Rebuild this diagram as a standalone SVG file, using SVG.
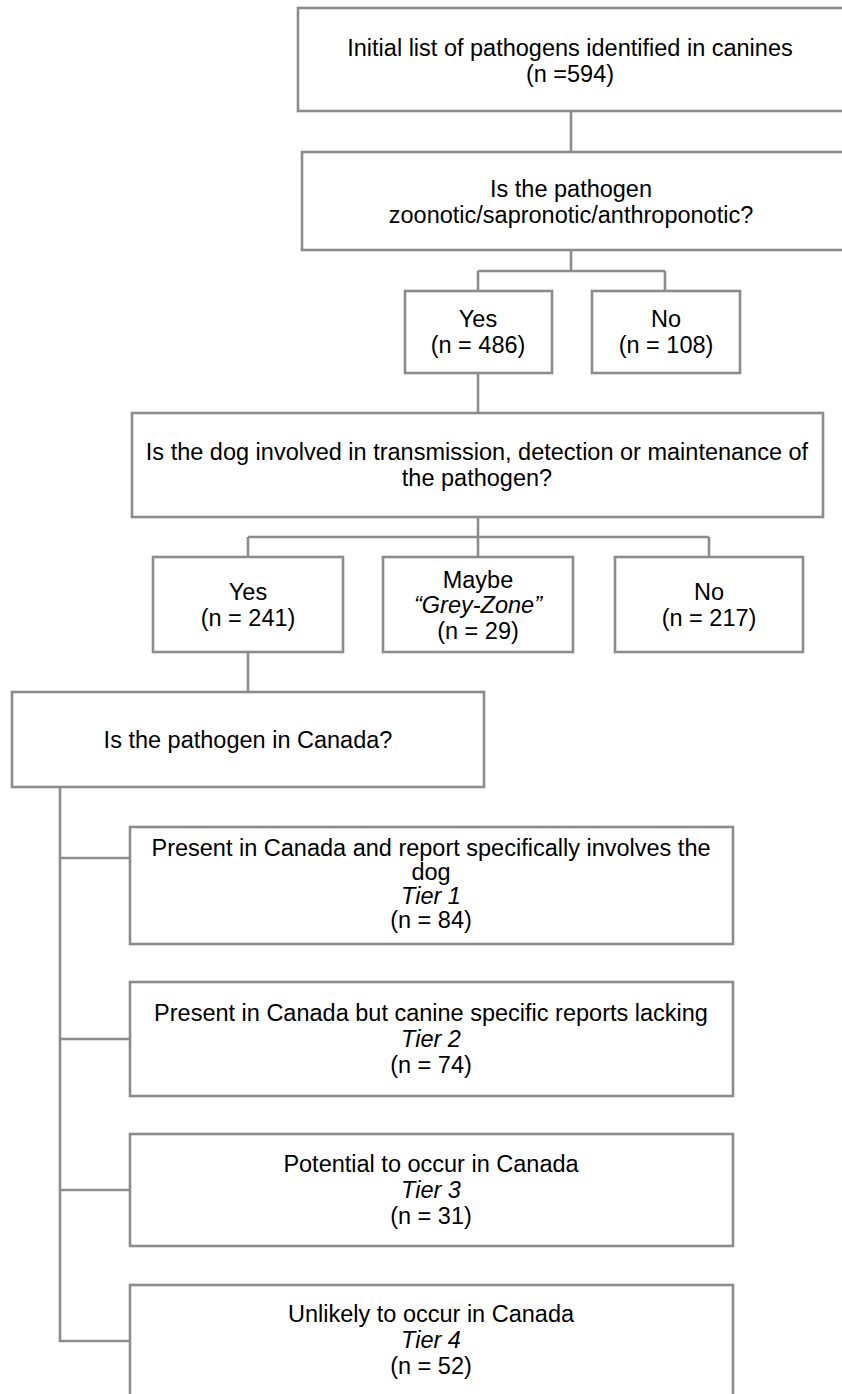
<svg xmlns="http://www.w3.org/2000/svg" width="842" height="1394" viewBox="0 0 842 1394">
<style>
.box{fill:#fff;stroke:#8c8c8c;stroke-width:2.6}
.ln{stroke:#8c8c8c;stroke-width:2.6;fill:none}
text{font-family:"Liberation Sans",Arial,sans-serif;font-size:23.5px;fill:#000;text-anchor:middle}
.it{font-style:italic}
</style>
<rect width="842" height="1394" fill="#fff"/>
<g id="connectors">
<path class="ln" d="M571 111V152"/>
<path class="ln" d="M571 250V271M478 271H665M478 271V291M665 271V291"/>
<path class="ln" d="M478 373V413"/>
<path class="ln" d="M478 517V537M248 537H709M248 537V557M478 537V557M709 537V557"/>
<path class="ln" d="M248 652V692"/>
<path class="ln" d="M60 787V1341H130M60 858H130M60 1039H130M60 1190H130"/>
</g>
<g id="n1"><rect class="box" x="298" y="8" width="560" height="103"/>
<text x="570" y="56">Initial list of pathogens identified in canines</text>
<text x="570" y="82">(n =594)</text></g>
<g id="n2"><rect class="box" x="302" y="152" width="560" height="98"/>
<text x="571" y="197">Is the pathogen</text>
<text x="571" y="223">zoonotic/sapronotic/anthroponotic?</text></g>
<g id="n3"><rect class="box" x="405" y="291" width="147" height="82"/>
<text x="478" y="327">Yes</text>
<text x="478" y="353">(n = 486)</text></g>
<g id="n4"><rect class="box" x="592" y="291" width="148" height="82"/>
<text x="666" y="327">No</text>
<text x="666" y="353">(n = 108)</text></g>
<g id="n5"><rect class="box" x="132" y="413" width="691" height="104"/>
<text x="477" y="460">Is the dog involved in transmission, detection or maintenance of</text>
<text x="477" y="486">the pathogen?</text></g>
<g id="n6"><rect class="box" x="153" y="557" width="190" height="95"/>
<text x="248" y="600">Yes</text>
<text x="248" y="626">(n = 241)</text></g>
<g id="n7"><rect class="box" x="383" y="557" width="190" height="95"/>
<text x="478" y="588">Maybe</text>
<text x="478" y="613" class="it">“Grey-Zone”</text>
<text x="478" y="639">(n = 29)</text></g>
<g id="n8"><rect class="box" x="615" y="557" width="188" height="95"/>
<text x="709" y="600">No</text>
<text x="709" y="626">(n = 217)</text></g>
<g id="n9"><rect class="box" x="12" y="692" width="472" height="95"/>
<text x="248" y="748">Is the pathogen in Canada?</text></g>
<g id="n10"><rect class="box" x="130" y="827" width="603" height="117"/>
<text x="431" y="856">Present in Canada and report specifically involves the</text>
<text x="431" y="880">dog</text>
<text x="431" y="904" class="it">Tier 1</text>
<text x="431" y="928">(n = 84)</text></g>
<g id="n11"><rect class="box" x="130" y="982" width="603" height="114"/>
<text x="431" y="1021">Present in Canada but canine specific reports lacking</text>
<text x="431" y="1047" class="it">Tier 2</text>
<text x="431" y="1073">(n = 74)</text></g>
<g id="n12"><rect class="box" x="130" y="1134" width="603" height="112"/>
<text x="431" y="1172">Potential to occur in Canada</text>
<text x="431" y="1198" class="it">Tier 3</text>
<text x="431" y="1224">(n = 31)</text></g>
<g id="n13"><rect class="box" x="130" y="1285" width="603" height="120"/>
<text x="431" y="1322">Unlikely to occur in Canada</text>
<text x="431" y="1348" class="it">Tier 4</text>
<text x="431" y="1374">(n = 52)</text></g>
</svg>
